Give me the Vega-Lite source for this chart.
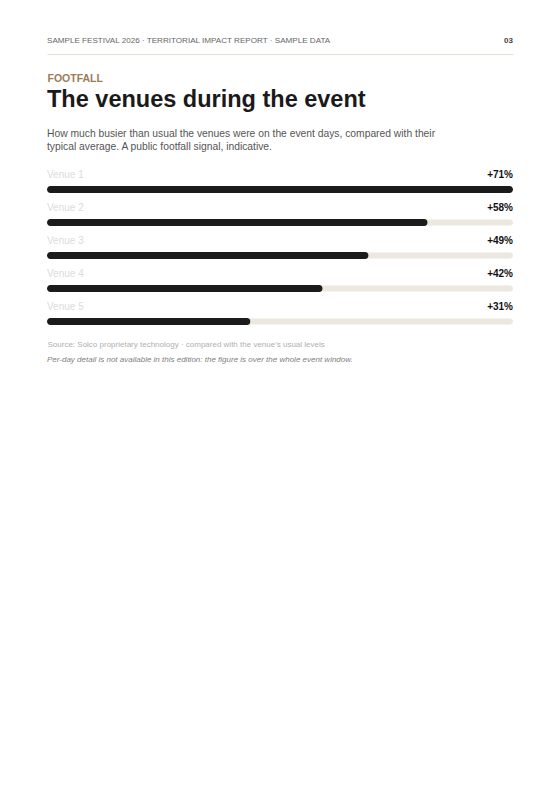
{
  "$schema": "https://vega.github.io/schema/vega-lite/v6.json",
  "background": "white",
  "padding": {"left": 47, "top": 28, "right": 47, "bottom": 0},
  "spacing": 4,
  "config": {
    "view": {"stroke": null},
    "font": "Liberation Sans"
  },
  "vconcat": [
    {
      "width": 466,
      "height": 26,
      "data": {"values": [
        {"side": "left", "label": "SAMPLE FESTIVAL 2026 · TERRITORIAL IMPACT REPORT · SAMPLE DATA"},
        {"side": "right", "label": "03"}
      ]},
      "encoding": {
        "x": {
          "field": "side", "type": "nominal",
          "scale": {"type": "point", "padding": 0, "domain": ["left", "right"]},
          "axis": {
            "orient": "bottom", "domain": true, "domainColor": "#e6e1d6", "domainWidth": 1,
            "ticks": false, "labels": false, "grid": false,
            "title": "FOOTFALL", "titleFont": "Liberation Sans", "titleFontSize": 10.5,
            "titleFontWeight": "bold", "titleColor": "#9c7b58",
            "titleAnchor": "start", "titleAlign": "left", "titlePadding": 19
          }
        },
        "text": {"field": "label"}
      },
      "layer": [
        {
          "transform": [{"filter": "datum.side == 'left'"}],
          "mark": {"type": "text", "align": "left", "baseline": "middle", "fontSize": 8.1, "color": "#666666"}
        },
        {
          "transform": [{"filter": "datum.side == 'right'"}],
          "mark": {"type": "text", "align": "right", "baseline": "middle", "fontSize": 8, "fontWeight": "bold", "color": "#444444"}
        }
      ]
    },
    {
      "width": 466,
      "title": {
        "text": "The venues during the event",
        "subtitle": [
          "How much busier than usual the venues were on the event days, compared with their",
          "typical average. A public footfall signal, indicative."
        ],
        "anchor": "start",
        "font": "Liberation Sans",
        "fontSize": 23.5,
        "fontWeight": "bold",
        "color": "#1a1a1a",
        "subtitleFont": "Liberation Sans",
        "subtitleFontSize": 10.3,
        "subtitleColor": "#555555",
        "subtitleLineHeight": 13.5,
        "subtitlePadding": 17,
        "offset": 17
      },
      "data": {"values": [
        {"venue": "Venue 1", "lift": 0.71},
        {"venue": "Venue 2", "lift": 0.58},
        {"venue": "Venue 3", "lift": 0.49},
        {"venue": "Venue 4", "lift": 0.42},
        {"venue": "Venue 5", "lift": 0.31}
      ]},
      "encoding": {
        "y": {
          "field": "venue", "type": "nominal", "sort": null,
          "scale": {"type": "band", "paddingInner": 0, "paddingOuter": 0},
          "axis": null
        }
      },
      "height": {"step": 33},
      "layer": [
        {
          "mark": {"type": "bar", "height": 6, "cornerRadius": 3, "color": "#ece8df"},
          "encoding": {"x": {"value": 0}, "x2": {"value": "width"}}
        },
        {
          "mark": {"type": "bar", "height": 7, "cornerRadius": 3.5, "color": "#1b1b1b"},
          "encoding": {
            "x": {
              "field": "lift", "type": "quantitative",
              "scale": {"zero": true, "nice": false},
              "axis": {
                "orient": "bottom", "domain": false, "ticks": false, "labels": false, "grid": false,
                "title": "Source: Solco proprietary technology · compared with the venue's usual levels",
                "titleFont": "Liberation Sans", "titleFontSize": 8, "titleFontWeight": "normal",
                "titleColor": "#b0b0b0", "titleAnchor": "start", "titleAlign": "left", "titlePadding": 2
              }
            }
          }
        },
        {
          "mark": {"type": "text", "align": "left", "baseline": "middle", "dy": -15, "fontSize": 10, "color": "#dcdcdc"},
          "encoding": {"x": {"value": 0}, "text": {"field": "venue"}}
        },
        {
          "mark": {"type": "text", "align": "right", "baseline": "middle", "dy": -15, "fontSize": 10, "fontWeight": "bold", "color": "#111111"},
          "encoding": {"x": {"value": "width"}, "text": {"field": "lift", "type": "quantitative", "format": "+.0%"}}
        }
      ]
    },
    {
      "width": 466,
      "height": 15,
      "data": {"values": [
        {"note": "Per-day detail is not available in this edition: the figure is over the whole event window."}
      ]},
      "mark": {"type": "text", "align": "left", "baseline": "middle", "fontSize": 8, "fontStyle": "italic", "color": "#808080"},
      "encoding": {
        "x": {"value": 0},
        "text": {"field": "note"}
      }
    }
  ]
}
